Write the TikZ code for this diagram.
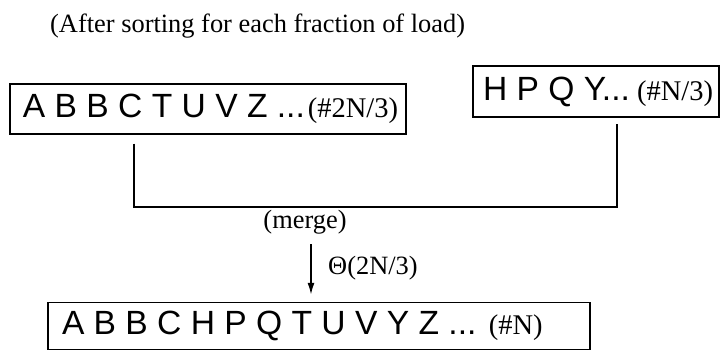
\documentclass[tikz,border=0pt]{standalone}
\usepackage{fontspec}
\setmainfont{Liberation Serif}
\newfontfamily\bigsans{Liberation Sans}
\usetikzlibrary{arrows.meta}
\tikzset{
  box/.style={draw, line width=1.4pt, rectangle, inner ysep=0pt, anchor=center},
  conn/.style={line width=1.8pt},
  arr/.style={line width=1.6pt, -{Latex[length=12pt,width=7pt]}},
  lbl/.style={inner sep=0pt, font=\fontsize{26.4}{30}\selectfont}
}
\newcommand{\sa}{\bigsans\fontsize{33.6}{38}\selectfont}
\newcommand{\sr}{\rmfamily\fontsize{28.5}{32}\selectfont}
\begin{document}
\begin{tikzpicture}[x=1pt,y=-1pt]
\useasboundingbox (0,0) rectangle (721,351);
\node[lbl, anchor=base west] (title) at (50,32) {(After sorting for each fraction of load)};
\node[box, minimum width=396pt, minimum height=50pt, inner xsep=13pt] (box1) at (208,109)
  {\makebox[370pt][l]{\sa A B B C T U V Z ...\kern3pt\sr(\#2N/3)}};
\node[box, minimum width=246pt, minimum height=51pt, inner xsep=10pt] (box2) at (596,91.5)
  {\makebox[226pt][l]{\sa H P Q Y...\sr\ (\#N/3)}};
\node[box, minimum width=542pt, minimum height=47pt, inner xsep=14pt] (box3) at (319,326)
  {\makebox[514pt][l]{\sa A B B C H P Q T U V Y Z ... \sr(\#N)}};
\coordinate (joint) at (376,207);
\draw[conn] ([xshift=-74pt,yshift=-9pt]box1.south) |- (joint) -| ([xshift=21pt,yshift=-6pt]box2.south);
\node[lbl] (merge) at (305,222) {(merge)};
\draw[arr] ([xshift=6pt,yshift=-10pt]merge.south) -- ([xshift=-8pt,yshift=7pt]box3.north);
\node[lbl, anchor=west] (theta) at (328,268) {Θ(2N/3)};
\end{tikzpicture}
\end{document}
